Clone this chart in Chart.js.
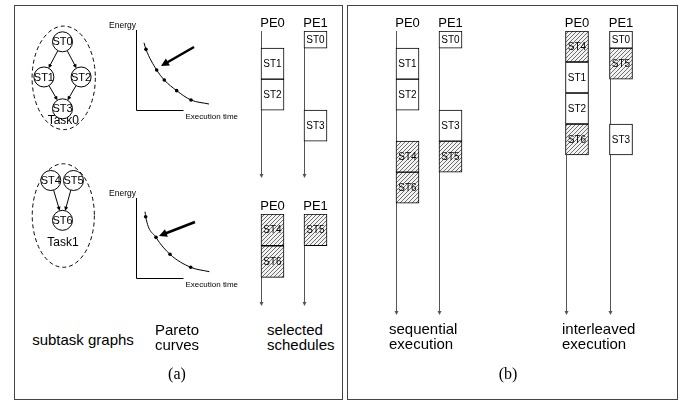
<!DOCTYPE html>
<html><head><meta charset="utf-8">
<script src="https://cdn.jsdelivr.net/npm/chart.js@4/dist/chart.umd.min.js"></script>
<style>
html,body{margin:0;padding:0;background:#fff;}
#fig{position:relative;width:681px;height:401px;overflow:hidden;background:#fff;font-family:"Liberation Sans",Arial,sans-serif;color:#000;}
.panel{position:absolute;border:1px solid #444;box-sizing:border-box;}
canvas{position:absolute;}
.cap{position:absolute;font-size:15px;line-height:15px;white-space:nowrap;}
.ctr{transform:translateX(-50%);text-align:center;}
.sub{position:absolute;font-family:"Liberation Serif","Times New Roman",serif;font-size:16px;line-height:16px;transform:translateX(-50%);}
</style></head>
<body><div id="fig">
<div class="panel" style="left:14px;top:5px;width:329px;height:395px"></div>
<div class="panel" style="left:347px;top:5px;width:331px;height:395px"></div>
<canvas id="graph" width="115" height="290" style="left:5px;top:4px"></canvas>
<canvas id="par0" width="145" height="110" style="left:100px;top:15px"></canvas>
<canvas id="par1" width="145" height="110" style="left:100px;top:183px"></canvas>
<canvas id="schA0" width="96" height="178" style="left:246px;top:6px"></canvas>
<canvas id="schA1" width="96" height="123" style="left:246px;top:189px"></canvas>
<canvas id="schSeq" width="96" height="315" style="left:381px;top:6px"></canvas>
<canvas id="schInt" width="98" height="315" style="left:550px;top:6px"></canvas>
<div class="cap ctr" style="left:83px;top:332px">subtask graphs</div>
<div class="cap ctr" style="left:177px;top:322px">Pareto<br>curves</div>
<div class="cap" style="left:267px;top:322px">selected<br>schedules</div>
<div class="sub" style="left:177px;top:366px">(a)</div>
<div class="cap" style="left:389px;top:321px">sequential<br>execution</div>
<div class="cap" style="left:562px;top:321px">interleaved<br>execution</div>
<div class="sub" style="left:508px;top:366px">(b)</div>
</div>
<script>
// ================= DATA =================
// Subtask graphs (layout units)
const nodeNames = ['ST0', 'ST1', 'ST2', 'ST3', 'ST4', 'ST5', 'ST6'];
const nodeX = [0, -1, 1, 0, -0.63, 0.59, 0];
const nodeY = [0, 1.05, 1.05, 2, 4.14, 4.14, 5.33];
const edgeFrom = [0, 0, 1, 2, 4, 5];
const edgeTo = [1, 2, 3, 3, 6, 6];
const taskNames = ['Task0', 'Task1'];
const taskX = [0.065, 0.043];
const taskY = [1.076, 5.186];
const taskRx = [1.7, 1.67];
const taskRy = [1.545, 1.545];
const taskLabelY = [2.35, 5.99];

// Pareto curves (execution time, energy; relative units)
const curve0X = [7.7, 9.6, 19.9, 27.2, 39.1, 52.9, 70.2];
const curve0Y = [84, 75.8, 50, 37.5, 24.2, 12.5, 7.5];
const pts0X = [9.6, 19.9, 27.2, 39.1, 52.9];
const pts0Y = [75.8, 50, 37.5, 24.2, 12.5];
const arrow0 = [55.8, 78.8, 24, 55];   // tail x, tail y, head x, head y
const curve1X = [8.7, 9.3, 19.2, 32.7, 52.6, 70.5];
const curve1Y = [82.9, 76.6, 50.8, 29.6, 13.4, 7.9];
const pts1X = [9.3, 19.2, 32.7, 52.6];
const pts1Y = [76.6, 50.8, 29.6, 13.4];
const arrow1 = [56.7, 70, 22.1, 52.5];

// Schedules (time units); task 0 = plain, task 1 = hatched
const peLabels = ['PE0', 'PE1'];
const schA0Names = ['ST0', 'ST1', 'ST2', 'ST3'];
const schA0PE    = ['PE1', 'PE0', 'PE0', 'PE1'];
const schA0Start = [0, 5.5, 15.5, 25.5];
const schA0End   = [5.5, 15.5, 25.5, 35.5];
const schA0Task  = [0, 0, 0, 0];
const schA0Len   = 47.4;

const schA1Names = ['ST4', 'ST6', 'ST5'];
const schA1PE    = ['PE0', 'PE0', 'PE1'];
const schA1Start = [0, 10, 0];
const schA1End   = [10, 20, 10];
const schA1Task  = [1, 1, 1];
const schA1Len   = 29;

const seqNames = ['ST0', 'ST1', 'ST2', 'ST3', 'ST4', 'ST5', 'ST6'];
const seqPE    = ['PE1', 'PE0', 'PE0', 'PE1', 'PE0', 'PE1', 'PE0'];
const seqStart = [0, 5.5, 15.5, 25.5, 35.5, 35.5, 45.5];
const seqEnd   = [5.5, 15.5, 25.5, 35.5, 45.5, 45.5, 55.5];
const seqTask  = [0, 0, 0, 0, 1, 1, 1];
const seqLen   = 91.6;

const intNames = ['ST4', 'ST1', 'ST2', 'ST6', 'ST0', 'ST5', 'ST3'];
const intPE    = ['PE0', 'PE0', 'PE0', 'PE0', 'PE1', 'PE1', 'PE1'];
const intStart = [0, 10, 20, 30, 0, 5.5, 30];
const intEnd   = [10, 20, 30, 40, 5.5, 15.5, 40];
const intTask  = [1, 0, 0, 1, 0, 1, 0];
const intLen   = 91.6;

// ================= HELPERS =================
const SANS = '"Liberation Sans", Arial, sans-serif';
function baseOpts(pad) {
  return { responsive: false, animation: false, devicePixelRatio: 1, events: [],
    layout: { padding: pad },
    plugins: { legend: { display: false }, tooltip: { enabled: false }, title: { display: false } } };
}
function drawArrow(ctx, x1, y1, x2, y2, width, headLen, headHalf, color) {
  const dx = x2 - x1, dy = y2 - y1, L = Math.hypot(dx, dy), ux = dx / L, uy = dy / L;
  const bx = x2 - ux * headLen, by = y2 - uy * headLen;
  ctx.strokeStyle = color; ctx.fillStyle = color; ctx.lineWidth = width;
  ctx.beginPath(); ctx.moveTo(x1, y1); ctx.lineTo(bx + ux * 0.5, by + uy * 0.5); ctx.stroke();
  ctx.beginPath(); ctx.moveTo(x2, y2);
  ctx.lineTo(bx - uy * headHalf, by + ux * headHalf);
  ctx.lineTo(bx + uy * headHalf, by - ux * headHalf);
  ctx.closePath(); ctx.fill();
}
const hatch = (() => {
  const c = document.createElement('canvas'); c.width = 4; c.height = 4;
  const x = c.getContext('2d');
  x.fillStyle = '#f2f2f2'; x.fillRect(0, 0, 4, 4);
  x.strokeStyle = '#707070'; x.lineWidth = 1;
  x.beginPath();
  x.moveTo(0, 4); x.lineTo(4, 0);
  x.moveTo(-1, 1); x.lineTo(1, -1);
  x.moveTo(3, 5); x.lineTo(5, 3);
  x.stroke();
  return x.createPattern(c, 'repeat');
})();

// ================= SUBTASK GRAPHS =================
const graphPlugin = {
  id: 'graphDraw',
  beforeDatasetsDraw(chart) {
    const { ctx } = chart, xs = chart.scales.x, ys = chart.scales.y;
    ctx.save();
    ctx.strokeStyle = '#000'; ctx.lineWidth = 1; ctx.setLineDash([4, 3]);
    taskNames.forEach((t, i) => {
      const cx = xs.getPixelForValue(taskX[i]), cy = ys.getPixelForValue(taskY[i]);
      const rx = Math.abs(xs.getPixelForValue(taskX[i] + taskRx[i]) - cx);
      const ry = Math.abs(ys.getPixelForValue(taskY[i] + taskRy[i]) - cy);
      ctx.beginPath(); ctx.ellipse(cx, cy, rx, ry, 0, 0, Math.PI * 2); ctx.stroke();
    });
    ctx.setLineDash([]);
    const r = chart.data.datasets[0].pointRadius;
    edgeFrom.forEach((a, k) => {
      const b = edgeTo[k];
      const x1 = xs.getPixelForValue(nodeX[a]), y1 = ys.getPixelForValue(nodeY[a]);
      const x2 = xs.getPixelForValue(nodeX[b]), y2 = ys.getPixelForValue(nodeY[b]);
      const L = Math.hypot(x2 - x1, y2 - y1), ux = (x2 - x1) / L, uy = (y2 - y1) / L;
      drawArrow(ctx, x1 + ux * r, y1 + uy * r, x2 - ux * r, y2 - uy * r, 1, 4, 2, '#000');
    });
    ctx.fillStyle = '#000'; ctx.font = '12px ' + SANS; ctx.textAlign = 'center'; ctx.textBaseline = 'middle';
    taskNames.forEach((t, i) => ctx.fillText(t, xs.getPixelForValue(taskX[i] - 0.02), ys.getPixelForValue(taskLabelY[i])));
    ctx.restore();
  },
  afterDatasetsDraw(chart) {
    const { ctx } = chart, xs = chart.scales.x, ys = chart.scales.y;
    ctx.save();
    ctx.fillStyle = '#000'; ctx.font = '11px ' + SANS; ctx.textAlign = 'center'; ctx.textBaseline = 'middle';
    nodeNames.forEach((n, i) => ctx.fillText(n, xs.getPixelForValue(nodeX[i]), ys.getPixelForValue(nodeY[i]) + 0.5));
    ctx.restore();
  }
};
new Chart(document.getElementById('graph'), {
  type: 'scatter',
  data: { datasets: [{ data: nodeX.map((x, i) => ({ x, y: nodeY[i] })), pointRadius: 10,
    pointBackgroundColor: '#fff', pointBorderColor: '#000', pointBorderWidth: 1, clip: false }] },
  options: Object.assign(baseOpts(0), {
    scales: { x: { type: 'linear', display: false, min: -2.5, max: 2.5 },
              y: { type: 'linear', display: false, min: -0.8, max: 7.2, reverse: true } } }),
  plugins: [graphPlugin]
});

// ================= PARETO CURVES =================
function paretoPlugin(arrow) {
  return {
    id: 'paretoDraw',
    afterDatasetsDraw(chart) {
      const { ctx, chartArea: a } = chart, xs = chart.scales.x, ys = chart.scales.y;
      ctx.save();
      ctx.fillStyle = '#000'; ctx.strokeStyle = '#000';
      ctx.font = '8px ' + SANS; ctx.textAlign = 'right'; ctx.textBaseline = 'alphabetic';
      const lbl = 'Execution time', w = ctx.measureText(lbl).width;
      ctx.fillText(lbl, a.right - 2, a.bottom + 8.5);
      ctx.font = '8.5px ' + SANS;
      ctx.fillText('Energy', a.left, a.top - 2);
      ctx.lineWidth = 1;
      ctx.beginPath();
      ctx.moveTo(a.left + 0.5, a.top); ctx.lineTo(a.left + 0.5, a.bottom + 0.5);
      ctx.lineTo(a.right - 2 - w - 2, a.bottom + 0.5);
      ctx.stroke();
      drawArrow(ctx, xs.getPixelForValue(arrow[0]), ys.getPixelForValue(arrow[1]),
        xs.getPixelForValue(arrow[2]), ys.getPixelForValue(arrow[3]), 2.5, 8, 4, '#000');
      ctx.restore();
    }
  };
}
function makePareto(id, cx, cy, px, py, arrow) {
  new Chart(document.getElementById(id), {
    type: 'scatter',
    data: { datasets: [
      { data: cx.map((x, i) => ({ x, y: cy[i] })), showLine: true, pointRadius: 0, borderColor: '#000',
        borderWidth: 1, cubicInterpolationMode: 'monotone', clip: false },
      { data: px.map((x, i) => ({ x, y: py[i] })), pointRadius: 1.8, pointBackgroundColor: '#000',
        pointBorderColor: '#000', pointBorderWidth: 0, clip: false }
    ] },
    options: Object.assign(baseOpts({ left: 36, right: 5, top: 15, bottom: 15 }), {
      scales: { x: { type: 'linear', display: false, min: 0, max: 100 },
                y: { type: 'linear', display: false, min: 0, max: 100 } } }),
    plugins: [paretoPlugin(arrow)]
  });
}
makePareto('par0', curve0X, curve0Y, pts0X, pts0Y, arrow0);
makePareto('par1', curve1X, curve1Y, pts1X, pts1Y, arrow1);

// ================= SCHEDULES =================
const BAR_W = 23;
const schedPlugin = {
  id: 'schedDraw',
  beforeDatasetsDraw(chart) {
    const { ctx, chartArea: a } = chart, xs = chart.scales.x;
    ctx.save();
    peLabels.forEach((p, i) => {
      const x = Math.round(xs.getPixelForValue(i) - BAR_W / 2) + 0.5;
      drawArrow(ctx, x, a.top, x, a.bottom, 1, 4, 2, '#555');
    });
    ctx.restore();
  },
  afterDatasetsDraw(chart) {
    const { ctx, chartArea: a } = chart, xs = chart.scales.x;
    ctx.save();
    ctx.fillStyle = '#000'; ctx.textAlign = 'center';
    ctx.font = '10px ' + SANS; ctx.textBaseline = 'middle';
    chart.data.datasets.forEach((ds, i) => {
      const el = chart.getDatasetMeta(i).data[0];
      ctx.fillText(ds.label, el.x, (el.y + el.base) / 2 + 0.5);
    });
    ctx.font = '13px ' + SANS; ctx.textBaseline = 'alphabetic';
    peLabels.forEach((p, i) => ctx.fillText(p, xs.getPixelForValue(i), a.top - 4));
    ctx.restore();
  }
};
function makeSched(id, names, pe, st, en, task, len) {
  new Chart(document.getElementById(id), {
    type: 'bar',
    data: { labels: peLabels, datasets: names.map((n, i) => ({
      label: n, data: [{ x: pe[i], y: [st[i], en[i]] }],
      backgroundColor: task[i] ? hatch : '#fff', borderColor: '#000', borderWidth: 1,
      borderSkipped: false, grouped: false, barThickness: BAR_W })) },
    options: Object.assign(baseOpts({ left: 5, right: 5, top: 25, bottom: 6 }), {
      scales: { x: { type: 'category', display: false, offset: true },
                y: { type: 'linear', display: false, min: 0, max: len, reverse: true } } }),
    plugins: [schedPlugin]
  });
}
makeSched('schA0', schA0Names, schA0PE, schA0Start, schA0End, schA0Task, schA0Len);
makeSched('schA1', schA1Names, schA1PE, schA1Start, schA1End, schA1Task, schA1Len);
makeSched('schSeq', seqNames, seqPE, seqStart, seqEnd, seqTask, seqLen);
makeSched('schInt', intNames, intPE, intStart, intEnd, intTask, intLen);
</script>
</body></html>
